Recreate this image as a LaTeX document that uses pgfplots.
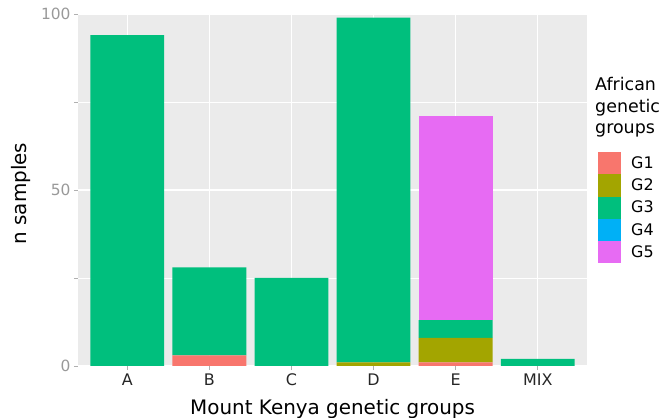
\documentclass[border=0pt]{standalone}
\usepackage{pgfplots}
\pgfplotsset{compat=1.18}
\usepackage{fontspec}
\setmainfont{DejaVu Sans}

\definecolor{panel}{HTML}{EBEBEB}
\definecolor{G1}{HTML}{F8766D}
\definecolor{G2}{HTML}{A3A500}
\definecolor{G3}{HTML}{00BF7D}
\definecolor{G4}{HTML}{00B0F6}
\definecolor{G5}{HTML}{E76BF3}
\definecolor{ticktext}{HTML}{999999}
\definecolor{tickmark}{HTML}{B0B0B0}

\pgfplotsset{
  gbar/.style={fill=#1, draw=none,
    legend image code/.code={\fill[#1] (0bp,-11.1bp) rectangle (23bp,11.1bp);}},
}

\begin{document}
\begin{tikzpicture}
\useasboundingbox (0,0) rectangle (662bp,418bp);
\clip (0,0) rectangle (662bp,418bp);
\begin{axis}[
  at={(78bp,52bp)}, anchor=south west,
  scale only axis,
  width=509bp, height=352bp,
  ybar stacked, bar width=0.9,
  xmin=-0.6, xmax=5.6,
  ymin=0, ymax=100,
  xtick={0,1,2,3,4,5},
  xticklabels={A,B,C,D,E,MIX},
  ytick={0,50,100},
  minor ytick={25,75},
  tick pos=left,
  tick align=outside,
  major tick length=4bp, minor tick length=4bp,
  tick style={color=tickmark, line width=0.8bp},
  axis line style={draw=none},
  axis background/.style={fill=panel},
  grid=both,
  major grid style={white, line width=1.1bp},
  minor grid style={white, line width=0.55bp},
  xticklabel style={font=\fontsize{16}{19}\selectfont, text=black!85},
  yticklabel style={font=\fontsize{15.5}{18}\selectfont, text=ticktext},
  /pgf/number format/assume math mode=true,
  xlabel={Mount Kenya genetic groups},
  ylabel={n samples},
  xlabel style={font=\fontsize{20}{24}\selectfont, at={(axis description cs:0.5,0)}, anchor=base, yshift=-48bp},
  ylabel style={font=\fontsize{20}{24}\selectfont, at={(axis description cs:-0.102,0.49)}, anchor=base},
  legend style={at={(1.0216,0.608)}, anchor=north west, draw=none, fill=none,
    inner sep=0pt, row sep=0pt, font=\fontsize{16}{19}\selectfont,
    /tikz/every odd column/.append style={column sep=8bp}},
  legend cell align=left,
]
\addplot+[gbar=G1] coordinates {(0,0) (1,3) (2,0) (3,0) (4,1) (5,0)};
\addplot+[gbar=G2] coordinates {(0,0) (1,0) (2,0) (3,1) (4,7) (5,0)};
\addplot+[gbar=G3] coordinates {(0,94) (1,25) (2,25) (3,98) (4,5) (5,2)};
\addplot+[gbar=G4] coordinates {(0,0) (1,0) (2,0) (3,0) (4,0) (5,0)};
\addplot+[gbar=G5] coordinates {(0,0) (1,0) (2,0) (3,0) (4,58) (5,0)};
\legend{G1,G2,G3,G4,G5}
\end{axis}
\node[anchor=north west, align=left, inner sep=0pt,
  font=\fontsize{17.5}{21.5}\selectfont] at (595bp,340.5bp) {African\\genetic\\groups};
\end{tikzpicture}
\end{document}
